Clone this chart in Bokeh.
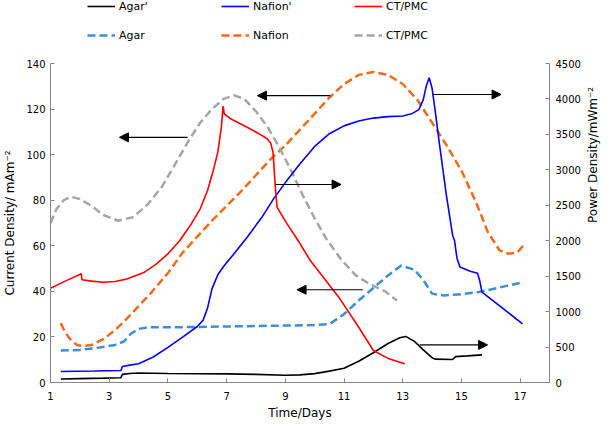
import math
from bokeh.plotting import figure
from bokeh.layouts import column
from bokeh.models import (Range1d, LinearAxis, FixedTicker, Legend, LegendItem,
                          Arrow, NormalHead)
from bokeh.embed import file_html
from bokeh.resources import INLINE

# ---------------- data ----------------
x_ticks = [1, 3, 5, 7, 9, 11, 13, 15, 17]
left_ticks = [0, 20, 40, 60, 80, 100, 120, 140]
right_ticks = [0, 500, 1000, 1500, 2000, 2500, 3000, 3500, 4000, 4500]

# Power density (right axis, mW m-2) -- solid lines
agar_p_x = [1.35, 2.0, 2.8, 3.4, 3.45, 3.7, 4.0, 5.0, 6.0, 7.0, 8.0, 9.0, 9.5, 10.0, 10.5,
            11.0, 11.5, 12.0, 12.5, 12.9, 13.1, 13.4, 13.7, 14.0, 14.1, 14.7, 14.8, 15.2, 15.7]
agar_p_y = [50, 55, 62, 68, 115, 128, 135, 128, 124, 122, 115, 103, 108, 125, 160,
            200, 300, 420, 550, 630, 650, 580, 460, 350, 330, 325, 365, 375, 390]

nafion_p_x = [1.35, 2.5, 3.4, 3.45, 3.7, 4.0, 4.5, 5.0, 5.5, 6.0, 6.2, 6.35, 6.5, 6.7, 6.9,
              7.3, 7.7, 8.2, 8.6, 9.0, 9.5, 10.0, 10.5, 11.0, 11.5, 12.0, 12.5, 13.0, 13.3,
              13.55, 13.7, 13.8, 13.9, 14.0, 14.1, 14.25, 14.48, 14.7, 14.76, 14.85, 14.95,
              15.3, 15.55, 15.62, 15.7, 16.4, 17.08]
nafion_p_y = [155, 162, 169, 225, 245, 265, 360, 495, 640, 790, 880, 1050, 1320, 1520, 1640,
              1840, 2050, 2330, 2590, 2820, 3085, 3330, 3510, 3620, 3690, 3730, 3750, 3760, 3790,
              3850, 3990, 4180, 4300, 4150, 3850, 3367, 2662, 2074, 2011, 1750, 1630,
              1570, 1540, 1440, 1274, 1050, 828]

ctpmc_p_x = [1.0, 1.5, 2.05, 2.07, 2.4, 2.8, 3.2, 3.6, 4.2, 4.6, 5.0, 5.4, 5.8, 6.1, 6.35,
             6.55, 6.7, 6.82, 6.88, 6.92, 7.14, 7.7, 8.1, 8.38, 8.5, 8.58, 8.62, 8.66, 8.72,
             8.85, 9.06, 9.5, 9.85, 10.3, 10.86, 11.5, 12.0, 12.5, 13.07]
ctpmc_p_y = [1330, 1430, 1533, 1450, 1430, 1415, 1425, 1460, 1556, 1670, 1815, 2000, 2240, 2450, 2709,
             3000, 3250, 3600, 3900, 3790, 3720, 3601, 3510, 3438, 3380, 3250, 3000, 2750, 2473,
             2380, 2238, 1960, 1721, 1480, 1180, 780, 451, 340, 263]

# Current density (left axis, mA m-2) -- dashed lines
agar_c_x = [1.35, 2.0, 2.6, 3.2, 3.5, 3.75, 4.0, 4.3, 5.0, 6.0, 7.0, 8.0, 9.0, 10.0, 10.5,
            11.0, 11.5, 12.0, 12.5, 12.95, 13.4, 13.7, 14.0, 14.4, 15.0, 15.5, 16.0, 16.5, 17.1]
agar_c_y = [14, 14.3, 15.2, 16.5, 18, 21.5, 23.5, 24.2, 24.2, 24.4, 24.6, 24.8, 25, 25.2, 25.6,
            30, 36, 41.5, 47, 51.3, 49.5, 45, 39, 38.2, 38.8, 39.5, 40.8, 42.3, 44]

nafion_c_x = [1.35, 1.5, 1.7, 1.9, 2.1, 2.4, 2.8, 3.2, 3.6, 4.0, 4.4, 5.0, 5.5, 6.0, 6.5, 7.0,
              7.5, 8.0, 8.5, 9.0, 9.5, 10.0, 10.5, 11.0, 11.5, 12.0, 12.5, 13.0, 13.5, 14.0,
              14.5, 15.0, 15.5, 15.9, 16.3, 16.6, 16.9, 17.1]
nafion_c_y = [26, 22, 18.5, 16.5, 16, 16.5, 19, 23, 28, 33.5, 39, 48, 57, 64, 71, 77.5,
              84, 91, 98, 104, 111, 118, 125, 131, 135, 136.3, 135, 131, 124, 114,
              104, 93, 79, 66, 58, 56.5, 57, 60]

ctpmc_c_x = [1.0, 1.2, 1.45, 1.7, 2.0, 2.4, 2.8, 3.3, 3.8, 4.3, 4.8, 5.3, 5.7, 6.1, 6.5, 6.9,
             7.25, 7.6, 8.0, 8.4, 8.8, 9.2, 9.6, 10.0, 10.4, 10.9, 11.4, 11.9, 12.4, 12.8]
ctpmc_c_y = [70, 76, 80, 81.5, 80.5, 77.5, 73.5, 71, 72.5, 78, 86, 97, 106, 114, 120, 124.5,
             126, 124.5, 119, 112, 103, 93, 82, 72, 63, 54, 47, 43, 40, 36]

# arrows: (x_start, x_end, y) in days / left-axis units
arrow_x0 = [5.67, 10.53, 8.66, 11.64, 14.03, 13.58]
arrow_x1 = [3.35, 8.05, 10.9, 9.4, 16.35, 15.89]
arrow_y = [107.6, 125.9, 86.9, 40.7, 126.4, 16.5]

legend_labels = ["Agar'", "Nafion'", "CT/PMC", "Agar", "Nafion", "CT/PMC"]
series_x = [agar_p_x, nafion_p_x, ctpmc_p_x, agar_c_x, nafion_c_x, ctpmc_c_x]
series_y = [agar_p_y, nafion_p_y, ctpmc_p_y, agar_c_y, nafion_c_y, ctpmc_c_y]

# ---------------- styles ----------------
FONT = "DejaVu Sans"
AXIS_GRAY = "#868686"
styles = [
    dict(line_color="#000000", line_width=1.6),                   # Agar'
    dict(line_color="#0000FF", line_width=1.6),                   # Nafion'
    dict(line_color="#FF0000", line_width=1.6),                   # CT/PMC'
    dict(line_color="#3B8EDB", line_width=2.5, line_dash="8 4"),  # Agar
    dict(line_color="#EE6C1B", line_width=2.5, line_dash="8 4"),  # Nafion
    dict(line_color="#A6A6A6", line_width=2.5, line_dash="8 4"),  # CT/PMC
]

# ---------------- legend strip (its own small figure, data kept out of view) ----------------
LEG_H = 50
pl = figure(width=609, height=LEG_H, output_backend="svg", toolbar_location=None,
            x_axis_type=None, y_axis_type=None,
            x_range=Range1d(-20000, -19999), y_range=Range1d(-20000, -19999),
            min_border=0, min_border_left=0, min_border_right=0,
            min_border_top=0, min_border_bottom=0)
pl.outline_line_color = None
pl.xgrid.visible = False
pl.ygrid.visible = False
leg_rs = [pl.line(sx, sy, **st) for sx, sy, st in zip(series_x, series_y, styles)]

col_x = [37, 171, 304]
for c in range(3):
    lg = Legend(items=[LegendItem(label=legend_labels[c], renderers=[leg_rs[c]]),
                       LegendItem(label=legend_labels[c + 3], renderers=[leg_rs[c + 3]])],
                location=(col_x[c], LEG_H - 42), orientation="vertical",
                glyph_width=28, glyph_height=14, label_height=14,
                label_standoff=4, spacing=15, padding=0, margin=0,
                border_line_color=None, background_fill_alpha=0,
                label_text_font=FONT, label_text_font_size="11px",
                label_text_color="black")
    pl.add_layout(lg)

# ---------------- main plot ----------------
p = figure(width=609, height=425 - LEG_H, output_backend="svg", toolbar_location=None,
           x_range=Range1d(1, 18), y_range=Range1d(0, 140),
           min_border_left=49, min_border_right=58, min_border_top=63 - LEG_H, min_border_bottom=43)
p.extra_y_ranges = {"power": Range1d(0, 4500)}
p.xgrid.visible = False
p.ygrid.visible = False
p.outline_line_color = None


def style_axis(ax, standoff):
    ax.axis_line_color = AXIS_GRAY
    ax.major_tick_line_color = AXIS_GRAY
    ax.major_tick_in = 4
    ax.major_tick_out = 0
    ax.minor_tick_line_color = None
    ax.major_label_text_font = FONT
    ax.major_label_text_font_size = "10px"
    ax.major_label_text_color = "black"
    ax.major_label_standoff = standoff
    ax.axis_label_text_font = FONT
    ax.axis_label_text_font_size = "12px"
    ax.axis_label_text_font_style = "normal"
    ax.axis_label_text_color = "black"


xa = p.xaxis[0]
style_axis(xa, 9)
xa.ticker = FixedTicker(ticks=x_ticks)
xa.axis_label = "Time/Days"
xa.axis_label_standoff = 3

ya = p.yaxis[0]
style_axis(ya, 5)
ya.ticker = FixedTicker(ticks=left_ticks)
ya.axis_label = "Current Density/ mAm\u207b\u00b2"
ya.axis_label_standoff = 6

ra = LinearAxis(y_range_name="power")
style_axis(ra, 6)
ra.ticker = FixedTicker(ticks=right_ticks)
ra.axis_label = "Power Density/mWm\u207b\u00b2"
ra.axis_label_standoff = 9
ra.axis_label_orientation = math.pi / 2
p.add_layout(ra, "right")

# dashed current-density curves (left axis)
for i in (3, 4, 5):
    p.line(series_x[i], series_y[i], **styles[i])

# solid power-density curves (right axis)
for i in (0, 1, 2):
    p.line(series_x[i], series_y[i], y_range_name="power", **styles[i])

for x0, x1, yy in zip(arrow_x0, arrow_x1, arrow_y):
    p.add_layout(Arrow(end=NormalHead(size=9, fill_color="black", line_color="black", line_width=1),
                       x_start=x0, y_start=yy, x_end=x1, y_end=yy,
                       line_color="black", line_width=1.2))

layout = column(pl, p, spacing=0)
open("out.html", "w").write(file_html(layout, INLINE))
